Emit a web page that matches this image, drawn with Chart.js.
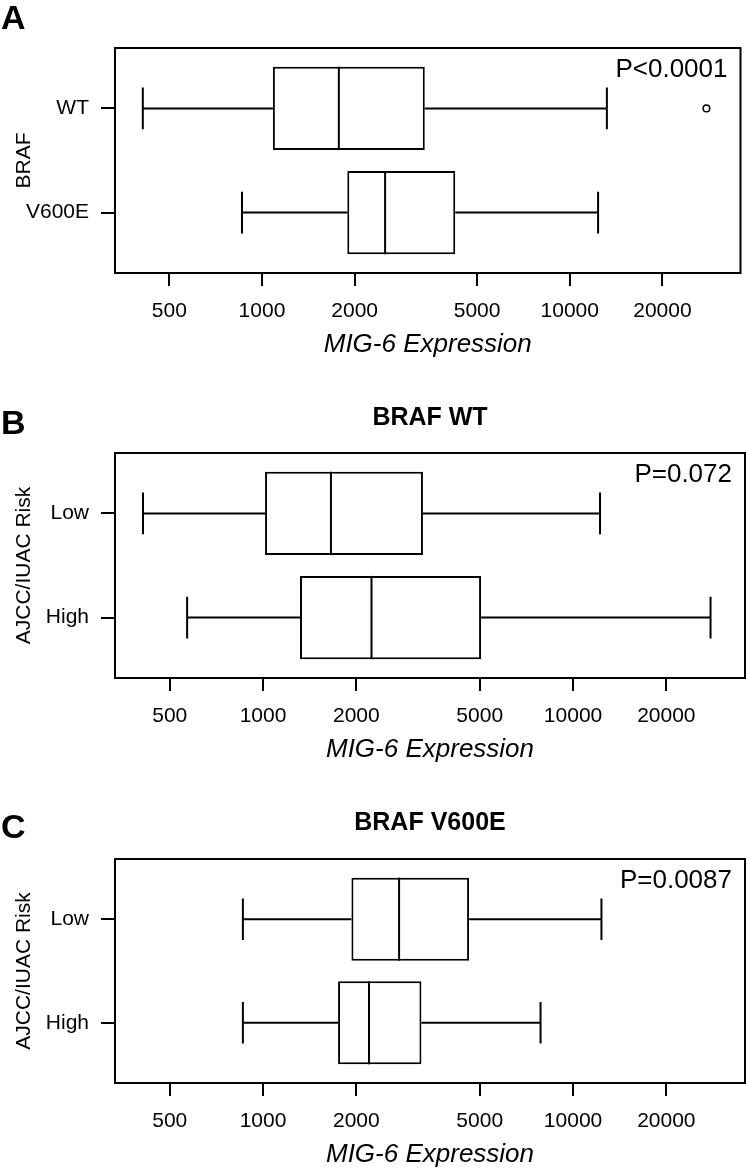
<!DOCTYPE html>
<html>
<head>
<meta charset="utf-8">
<script src="https://cdn.jsdelivr.net/npm/chart.js@4"></script>
<style>
  html, body { margin: 0; padding: 0; background: #fff; overflow: hidden; }
  body { position: relative; width: 746px; height: 1169px; font-family: "Liberation Sans", Arial, sans-serif; }
  canvas { position: absolute; left: 0; }
  .txt { position: absolute; font-weight: bold; line-height: 1; color: #000; white-space: nowrap; }
</style>
</head>
<body>
<canvas id="chartA" width="746" height="363" style="top:0px"></canvas>
<canvas id="chartB" width="746" height="388" style="top:380px"></canvas>
<canvas id="chartC" width="746" height="383" style="top:790px"></canvas>

<div class="txt" style="left:1px;top:0px;font-size:34px">A</div>
<div class="txt" style="left:1px;top:405px;font-size:34px">B</div>
<div class="txt" style="left:115px;width:630px;text-align:center;top:404px;font-size:25px">BRAF WT</div>
<div class="txt" style="left:1px;top:809px;font-size:34px">C</div>
<div class="txt" style="left:115px;width:630px;text-align:center;top:809px;font-size:25px">BRAF V600E</div>

<script>
// shared log axis
const xTicks = [500, 1000, 2000, 5000, 10000, 20000];
const xMin = 333;
const xMax = 35870;

// A: BRAF status
const groupsA = ["WT", "V600E"];
const lowA = [410, 861];
const q1A = [1085, 1893];
const medA = [1777, 2512];
const q3A = [3380, 4245];
const highA = [13200, 12360];
const outA = [[27800], []];

// B: BRAF WT, risk groups
const groupsB = ["Low", "High"];
const lowB = [410, 569];
const q1B = [1015, 1316];
const medB = [1656, 2238];
const q3B = [3280, 5050];
const highB = [12220, 27770];
const outB = [[], []];

// C: BRAF V600E, risk groups
const groupsC = ["Low", "High"];
const lowC = [861, 861];
const q1C = [1928, 1746];
const medC = [2747, 2197];
const q3C = [4620, 3243];
const highC = [12350, 7855];
const outC = [[], []];

const FONT = "'Liberation Sans', Arial, sans-serif";

// whiskers, caps, medians, frame and p value
const boxParts = {
  id: "boxParts",
  beforeDatasetsDraw(chart, args, o) {
    const { ctx } = chart;
    const xs = chart.scales.x, ys = chart.scales.y;
    ctx.save();
    ctx.strokeStyle = "#000";
    ctx.lineWidth = 2;
    o.low.forEach((lo, i) => {
      const yc = ys.getPixelForValue(i + 1);
      const yt = ys.getPixelForValue(i + 1 - 0.2);
      const yb = ys.getPixelForValue(i + 1 + 0.2);
      const xl = xs.getPixelForValue(lo);
      const xh = xs.getPixelForValue(o.high[i]);
      ctx.beginPath();
      ctx.moveTo(xl, yc); ctx.lineTo(xs.getPixelForValue(o.q1[i]), yc);
      ctx.moveTo(xs.getPixelForValue(o.q3[i]), yc); ctx.lineTo(xh, yc);
      ctx.moveTo(xl, yt); ctx.lineTo(xl, yb);
      ctx.moveTo(xh, yt); ctx.lineTo(xh, yb);
      ctx.stroke();
    });
    ctx.restore();
  },
  afterDatasetsDraw(chart, args, o) {
    const { ctx } = chart;
    const xs = chart.scales.x, ys = chart.scales.y;
    ctx.save();
    ctx.strokeStyle = "#000";
    ctx.lineWidth = 2;
    o.med.forEach((m, i) => {
      const xm = xs.getPixelForValue(m);
      ctx.beginPath();
      ctx.moveTo(xm, ys.getPixelForValue(i + 1 - 0.4));
      ctx.lineTo(xm, ys.getPixelForValue(i + 1 + 0.4));
      ctx.stroke();
    });
    ctx.restore();
  },
  afterDraw(chart, args, o) {
    const { ctx, chartArea: a } = chart;
    ctx.save();
    ctx.strokeStyle = "#000";
    ctx.lineWidth = 2;
    ctx.strokeRect(a.left, a.top, a.right - a.left, a.bottom - a.top);
    ctx.fillStyle = "#000";
    ctx.font = "26px " + FONT;
    ctx.textAlign = "right";
    ctx.textBaseline = "alphabetic";
    ctx.fillText(o.p, a.right - 13, a.top + 29);
    ctx.restore();
  }
};

function makePanel(id, groups, low, q1, med, q3, high, out, pText, yTitle, padTop) {
  const boxes = groups.map((g, i) => ({ x: [q1[i], q3[i]], y: i + 1 }));
  const outliers = [];
  out.forEach((list, i) => list.forEach(v => outliers.push({ x: v, y: i + 1 })));

  return new Chart(document.getElementById(id), {
    type: "bar",
    data: {
      datasets: [
        {
          label: "box",
          data: boxes,
          indexAxis: "y",
          backgroundColor: "#fff",
          borderColor: "#000",
          borderWidth: 2,
          borderSkipped: false,
          barPercentage: 0.8,
          categoryPercentage: 1
        },
        {
          type: "scatter",
          label: "outliers",
          data: outliers,
          pointStyle: "circle",
          pointRadius: 3.3,
          borderColor: "#000",
          backgroundColor: "#fff",
          borderWidth: 1.5
        }
      ]
    },
    options: {
      responsive: false,
      animation: false,
      layout: { padding: { top: padTop, right: 1, left: 0, bottom: 0 } },
      plugins: {
        legend: { display: false },
        tooltip: { enabled: false },
        boxParts: { low, q1, med, q3, high, p: pText }
      },
      scales: {
        x: {
          type: "logarithmic",
          min: xMin,
          max: xMax,
          offset: false,
          afterBuildTicks: s => { s.ticks = xTicks.map(v => ({ value: v })); },
          afterFit: s => { s.height = 90; },
          border: { display: false },
          grid: { offset: false, drawOnChartArea: false, tickLength: 13, lineWidth: 2, color: "#000" },
          ticks: {
            autoSkip: false, maxRotation: 0, padding: 13, color: "#000",
            font: { family: FONT, size: 21 },
            callback: v => String(v)
          },
          title: {
            display: true, text: "MIG-6 Expression", color: "#000",
            font: { family: FONT, size: 26, style: "italic" },
            padding: { top: 0, bottom: 3 }
          }
        },
        y: {
          type: "linear",
          min: 0.42,
          max: 2.58,
          reverse: true,
          offset: false,
          afterBuildTicks: s => { s.ticks = groups.map((g, i) => ({ value: i + 1 })); },
          afterFit: s => { s.width = 115; },
          border: { display: false },
          grid: { offset: false, drawOnChartArea: false, tickLength: 14, lineWidth: 2, color: "#000" },
          ticks: {
            autoSkip: false, padding: 12, color: "#000",
            font: { family: FONT, size: 21 },
            callback: v => groups[v - 1]
          },
          title: {
            display: true, text: yTitle, color: "#000",
            font: { family: FONT, size: 21 },
            padding: { top: 12, bottom: 0 }
          }
        }
      }
    },
    plugins: [boxParts]
  });
}

makePanel("chartA", groupsA, lowA, q1A, medA, q3A, highA, outA, "P<0.0001", "BRAF", 48);
makePanel("chartB", groupsB, lowB, q1B, medB, q3B, highB, outB, "P=0.072", "AJCC/IUAC Risk", 73);
makePanel("chartC", groupsC, lowC, q1C, medC, q3C, highC, outC, "P=0.0087", "AJCC/IUAC Risk", 69);
</script>
</body>
</html>
